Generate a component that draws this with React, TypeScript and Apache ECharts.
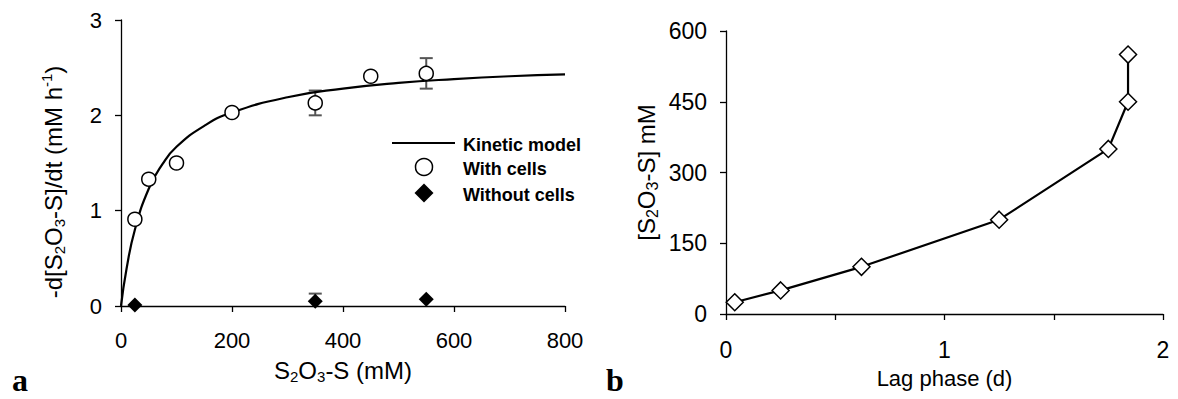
import React, { useEffect, useRef } from "react";
import * as echarts from "echarts";

// Panel a: substrate oxidation rates
const withCellsX = [25, 50, 100, 200, 350, 450, 550];
const withCellsY = [0.91, 1.33, 1.5, 2.03, 2.13, 2.41, 2.44];
const withCellsErr = [0, 0, 0, 0, 0.13, 0, 0.16];
const withoutCellsX = [25, 350, 550];
const withoutCellsY = [0.01, 0.05, 0.07];
const withoutCellsErr = [0, 0.08, 0];
// Kinetic model curve
const modelX = [0, 10, 25, 50, 75, 100, 150, 200, 300, 400, 500, 600, 700, 800];
const modelY = [0, 0.39, 0.8, 1.23, 1.49, 1.67, 1.89, 2.03, 2.19, 2.28, 2.34, 2.38, 2.41, 2.43];
const xTicksA = [0, 200, 400, 600, 800];
const yTicksA = [0, 1, 2, 3];
const legendLabels = ["Kinetic model", "With cells", "Without cells"];

// Panel b: lag phase vs concentration
const lagPhase = [0.04, 0.25, 0.62, 1.25, 1.75, 1.84, 1.84];
const concentration = [25, 50, 100, 200, 350, 450, 550];
const xTicksB = [0, 0.5, 1, 1.5, 2];
const yTicksB = [0, 150, 300, 450, 600];

const FONT = '"Liberation Sans", Arial, sans-serif';
const SERIF = '"Liberation Serif", "Times New Roman", serif';

const tickStyle = { show: true, inside: false, length: 6, lineStyle: { color: "#000", width: 1.3 } };
const lineStyleAxis = { show: true, lineStyle: { color: "#000", width: 1.3 } };

const subRich = (size: number) => ({
  sub: { fontSize: size, fontFamily: FONT, color: "#000", verticalAlign: "bottom", lineHeight: 13 },
  sup: { fontSize: size, fontFamily: FONT, color: "#000", verticalAlign: "top", lineHeight: 13 },
});

function errorBarRender(params: any, api: any) {
  const x = api.value(0);
  const lo = api.value(1);
  const hi = api.value(2);
  const top = api.coord([x, hi]);
  const bot = api.coord([x, Math.max(lo, 0)]);
  const half = 6.5;
  const style = { stroke: "#555", lineWidth: 2 };
  const children: any[] = [
    { type: "line", shape: { x1: top[0], y1: top[1], x2: bot[0], y2: bot[1] }, style },
    { type: "line", shape: { x1: top[0] - half, y1: top[1], x2: top[0] + half, y2: top[1] }, style },
  ];
  if (lo >= 0) {
    children.push({ type: "line", shape: { x1: bot[0] - half, y1: bot[1], x2: bot[0] + half, y2: bot[1] }, style });
  }
  return { type: "group", children };
}

export default function App() {
  const ref = useRef<HTMLDivElement>(null);
  useEffect(() => {
    if (!ref.current) return;
    const chart = echarts.init(ref.current, undefined, { renderer: "svg" });

    const errWith = withCellsX
      .map((x, i) => [x, withCellsY[i] - withCellsErr[i], withCellsY[i] + withCellsErr[i]])
      .filter((_, i) => withCellsErr[i] > 0);
    const errWithout = withoutCellsX
      .map((x, i) => [x, withoutCellsY[i] - withoutCellsErr[i], withoutCellsY[i] + withoutCellsErr[i]])
      .filter((_, i) => withoutCellsErr[i] > 0);

    // legend (drawn as graphic so that icons match the figure)
    const lgX = 392, lgW = 63, lgCx = 424, lgTextX = 463;
    const lgY = [143, 167, 193];
    const legendGraphic: any[] = [
      { type: "line", shape: { x1: lgX, y1: lgY[0], x2: lgX + lgW, y2: lgY[0] }, style: { stroke: "#000", lineWidth: 2.2 } },
      { type: "circle", shape: { cx: lgCx, cy: lgY[1], r: 8.5 }, style: { fill: "#fff", stroke: "#000", lineWidth: 1.5 } },
      {
        type: "polygon",
        shape: { points: [[lgCx, lgY[2] - 9.5], [lgCx + 9.5, lgY[2]], [lgCx, lgY[2] + 9.5], [lgCx - 9.5, lgY[2]]] },
        style: { fill: "#000" },
      },
      ...legendLabels.map((t, i) => ({
        type: "text",
        x: lgTextX,
        y: lgY[i] + 1.5,
        style: { text: t, font: `bold 18px ${FONT}`, fill: "#000", verticalAlign: "middle", align: "left" },
      })),
    ];

    chart.setOption({
      animation: false,
      backgroundColor: "#fff",
      textStyle: { fontFamily: FONT },
      grid: [
        { left: 121, top: 20, right: 613, bottom: 93 },
        { left: 726, top: 31, right: 15, bottom: 85 },
      ],
      xAxis: [
        {
          type: "value",
          gridIndex: 0,
          min: xTicksA[0],
          max: xTicksA[xTicksA.length - 1],
          interval: 200,
          axisLine: lineStyleAxis,
          axisTick: tickStyle,
          splitLine: { show: false },
          axisLabel: { color: "#000", fontSize: 22, fontFamily: FONT, margin: 23 },
          nameLocation: "middle",
          name: "S{sub|2}O{sub|3}-S (mM)",
          nameGap: 50,
          nameTextStyle: { fontSize: 24, fontFamily: FONT, color: "#000", lineHeight: 28, rich: subRich(15) },
        },
        {
          type: "value",
          gridIndex: 1,
          min: xTicksB[0],
          max: xTicksB[xTicksB.length - 1],
          interval: 0.5,
          axisLine: lineStyleAxis,
          axisTick: tickStyle,
          splitLine: { show: false },
          axisLabel: {
            color: "#000",
            fontSize: 23,
            fontFamily: FONT,
            margin: 24,
            formatter: (v: number) => (Number.isInteger(v) ? String(v) : ""),
          },
          nameLocation: "middle",
          name: "Lag phase (d)",
          nameGap: 45,
          nameTextStyle: { fontSize: 22, fontFamily: FONT, color: "#000", lineHeight: 26 },
        },
      ],
      yAxis: [
        {
          type: "value",
          gridIndex: 0,
          min: yTicksA[0],
          max: yTicksA[yTicksA.length - 1],
          interval: 1,
          axisLine: lineStyleAxis,
          axisTick: tickStyle,
          splitLine: { show: false },
          axisLabel: { color: "#000", fontSize: 22, fontFamily: FONT, margin: 19 },
          nameLocation: "middle",
          name: "-d[S{sub|2}O{sub|3}-S]/dt (mM h{sup|-1})",
          nameGap: 54,
          nameTextStyle: {
            fontSize: 24,
            fontFamily: FONT,
            color: "#000",
            lineHeight: 28,
            rich: subRich(15),
            padding: [0, 38, 0, 0],
          },
        },
        {
          type: "value",
          gridIndex: 1,
          min: yTicksB[0],
          max: yTicksB[yTicksB.length - 1],
          interval: 150,
          axisLine: lineStyleAxis,
          axisTick: tickStyle,
          splitLine: { show: false },
          axisLabel: { color: "#000", fontSize: 23, fontFamily: FONT, margin: 19 },
          nameLocation: "middle",
          name: "[S{sub|2}O{sub|3}-S] mM",
          nameGap: 66,
          nameTextStyle: { fontSize: 24, fontFamily: FONT, color: "#000", lineHeight: 28, rich: subRich(16) },
        },
      ],
      series: [
        {
          name: "With cells error",
          type: "custom",
          xAxisIndex: 0,
          yAxisIndex: 0,
          renderItem: errorBarRender,
          data: errWith,
          encode: { x: 0, y: [1, 2] },
          z: 1,
          clip: false,
        },
        {
          name: "Without cells error",
          type: "custom",
          xAxisIndex: 0,
          yAxisIndex: 0,
          renderItem: errorBarRender,
          data: errWithout,
          encode: { x: 0, y: [1, 2] },
          z: 1,
          clip: false,
        },
        {
          name: legendLabels[0],
          type: "line",
          xAxisIndex: 0,
          yAxisIndex: 0,
          data: modelX.map((x, i) => [x, modelY[i]]),
          smooth: true,
          symbol: "none",
          lineStyle: { color: "#000", width: 2.2 },
          itemStyle: { color: "#000" },
          z: 2,
        },
        {
          name: legendLabels[1],
          type: "scatter",
          xAxisIndex: 0,
          yAxisIndex: 0,
          data: withCellsX.map((x, i) => [x, withCellsY[i]]),
          symbol: "circle",
          symbolSize: 14,
          itemStyle: { color: "#fff", borderColor: "#000", borderWidth: 1.5, opacity: 1 },
          z: 3,
          clip: false,
        },
        {
          name: legendLabels[2],
          type: "scatter",
          xAxisIndex: 0,
          yAxisIndex: 0,
          data: withoutCellsX.map((x, i) => [x, withoutCellsY[i]]),
          symbol: "diamond",
          symbolSize: 15,
          itemStyle: { color: "#000", opacity: 1 },
          z: 3,
          clip: false,
        },
        {
          name: "Lag phase",
          type: "line",
          xAxisIndex: 1,
          yAxisIndex: 1,
          data: lagPhase.map((x, i) => [x, concentration[i]]),
          symbol: "diamond",
          symbolSize: 17,
          showAllSymbol: true,
          lineStyle: { color: "#000", width: 2.2 },
          itemStyle: { color: "#fff", borderColor: "#000", borderWidth: 1.5 },
          clip: false,
        },
      ],
      graphic: [
        ...legendGraphic,
        {
          type: "text",
          left: 12,
          top: 364,
          style: { text: "a", font: `bold 32px ${SERIF}`, fill: "#000" },
        },
        {
          type: "text",
          left: 606,
          top: 364,
          style: { text: "b", font: `bold 32px ${SERIF}`, fill: "#000" },
        },
      ],
    });
    return () => chart.dispose();
  }, []);
  return (
    <div
      ref={ref}
      style={{ position: "fixed", left: 0, top: 0, width: 1178, height: 399, background: "#fff" }}
    />
  );
}
